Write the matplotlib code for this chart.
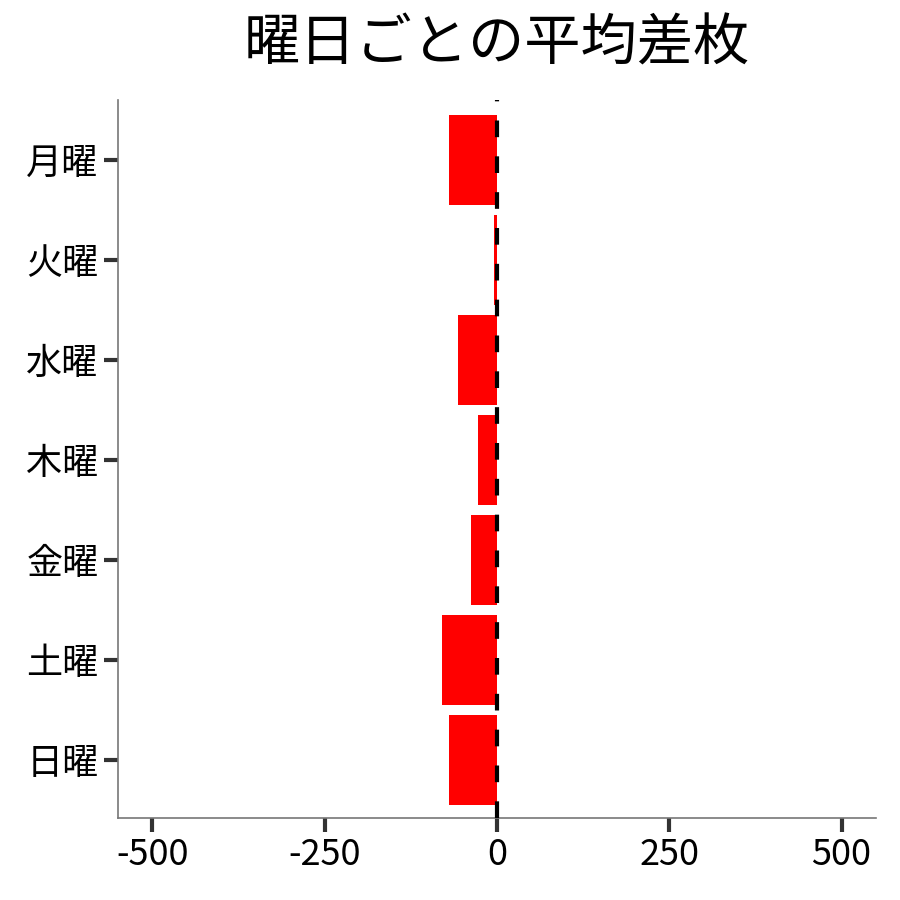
import numpy as np
import matplotlib
matplotlib.use("Agg")
import matplotlib.pyplot as plt

plt.rcParams['font.family'] = ['Noto Sans CJK JP', 'DejaVu Sans']

# data
days = ["月曜", "火曜", "水曜", "木曜", "金曜", "土曜", "日曜"]
diff = [-70, -4, -57, -28, -38, -80, -69]
xticks = [-500, -250, 0, 250, 500]

fig = plt.figure(figsize=(9, 9), dpi=100)
ax = fig.add_axes([118/900, 1-818/900, (876-118)/900, (818-100)/900])

ypos = np.arange(len(days))
ax.barh(ypos, diff, height=0.9, color="#ff0000")
ax.axvline(0, color="black", lw=3, ls=(0, (4, 4.6)), zorder=3)

ax.set_xlim(-550, 550)
ax.set_ylim(6.58, -0.6)
ax.set_yticks(ypos)
ax.set_yticklabels(days, fontsize=26)
ax.set_xticks(xticks)
ax.set_xticklabels([str(v) for v in xticks], fontsize=26)

for s in ["top", "right"]:
    ax.spines[s].set_visible(False)
for s in ["left", "bottom"]:
    ax.spines[s].set_color("#777777")
    ax.spines[s].set_linewidth(1.2)
ax.tick_params(axis="both", length=10, width=3, color="#333333", pad=4)

fig.text(497/900, 1-45/900, "曜日ごとの平均差枚", fontsize=40.5, ha="center", va="center")

fig.savefig("out.png", dpi=100)
